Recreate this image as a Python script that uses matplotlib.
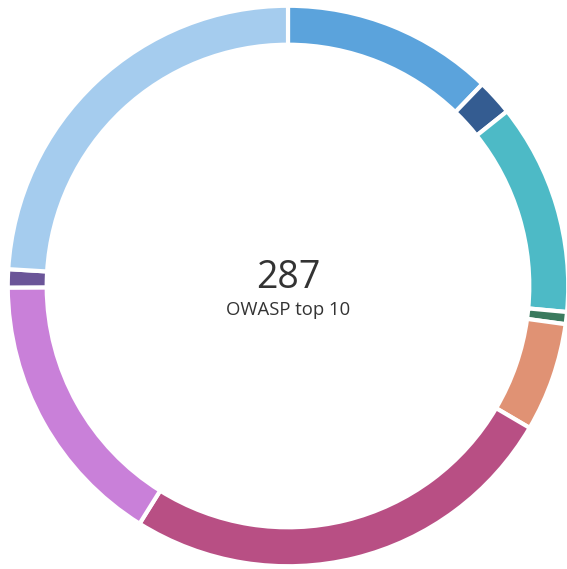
import matplotlib
matplotlib.use("Agg")
import matplotlib.pyplot as plt

# OWASP top 10 findings, clockwise from 12 o'clock
values = [35, 6, 35, 2, 18, 73, 46, 3, 69]
colors = ["#5ba3dc", "#345c91", "#4dbac6", "#3a7a5e", "#e09274",
          "#b84f84", "#c980d9", "#6b5598", "#a5ccee"]
total_label = str(sum(values))
subtitle = "OWASP top 10"

plt.rcParams["font.family"] = ["Open Sans", "DejaVu Sans"]

fig = plt.figure(figsize=(5.67, 5.69), dpi=100)
ax = fig.add_axes([0, 0, 1, 1])

# white edges eat ~2px on each side, so draw the ring a bit larger
ax.pie(values, colors=colors, startangle=90, counterclock=False,
       radius=1.008, wedgeprops=dict(width=0.14, edgecolor="white", linewidth=3))

# place the ring the same way as the reference (pixel centre ~ (288, 286), r ~ 278 px)
ax.set_xlim(-288 / 278, (567 - 288) / 278)
ax.set_ylim(-(569 - 286) / 278, 286 / 278)
ax.set_aspect("auto")
ax.axis("off")

ax.text(0, -0.008, total_label, ha="center", va="baseline",
        fontsize=27, color="#333333")
ax.text(0, -0.104, subtitle, ha="center", va="baseline",
        fontsize=13.3, color="#333333")

fig.savefig("out.png", dpi=100, facecolor="white")
